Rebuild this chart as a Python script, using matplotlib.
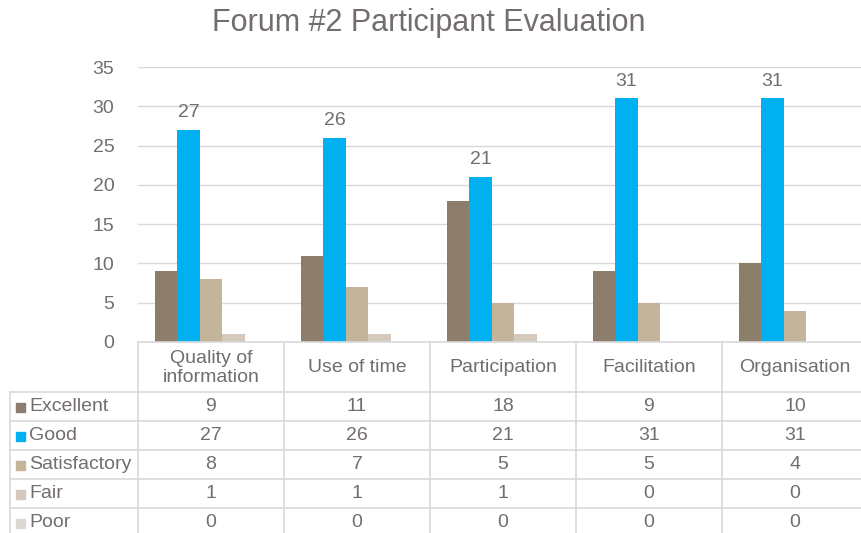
import numpy as np
import matplotlib
matplotlib.use('Agg')
import matplotlib.pyplot as plt
from matplotlib.patches import Rectangle

categories = ['Quality of\ninformation', 'Use of time', 'Participation', 'Facilitation', 'Organisation']
series = ['Excellent', 'Good', 'Satisfactory', 'Fair', 'Poor']
excellent = [9, 11, 18, 9, 10]
good = [27, 26, 21, 31, 31]
satisfactory = [8, 7, 5, 5, 4]
fair = [1, 1, 1, 0, 0]
poor = [0, 0, 0, 0, 0]
colors = ['#8c7e6b', '#00b0f0', '#c4b59a', '#d4c9bc', '#dcd9d5']

values = [excellent, good, satisfactory, fair, poor]
txt = '#736d6d'
grid = '#d9d9d9'
fs = 14

plt.rcParams['font.family'] = ['Liberation Sans', 'DejaVu Sans']

W, H = 861, 533
fig = plt.figure(figsize=(W / 100, H / 100), dpi=100)

# plot area (pixel layout of the reference)
left, right, top, bottom = 138, 868, 67, 342
ax = fig.add_axes([left / W, 1 - bottom / H, (right - left) / W, (bottom - top) / H])
x = np.arange(len(categories))
bw = 0.154
for i, (name, vals) in enumerate(zip(series, values)):
    bars = ax.bar(x + (i - 2) * bw, vals, bw, color=colors[i], label=name, zorder=3)
    if name == 'Good':
        for b, v in zip(bars, vals):
            ax.text(b.get_x() + b.get_width() / 2, v + 1.1, str(v), ha='center', va='bottom',
                    fontsize=fs, color=txt)

ax.set_xlim(-0.5, len(categories) - 0.5)
ax.set_ylim(0, 35)
ax.set_yticks(range(0, 36, 5))
ax.yaxis.grid(True, color=grid, linewidth=1, zorder=0)
ax.set_xticks([])
ax.tick_params(axis='y', length=0, labelsize=fs, labelcolor=txt, pad=17)
for s in ax.spines.values():
    s.set_visible(False)

fig.text(429 / W, 1 - 23 / H, 'Forum #2 Participant Evaluation', ha='center', va='center',
         fontsize=22, color=txt)

# data table underneath, drawn in pixel coordinates
tx = fig.add_axes([0, 0, 1, 1])
tx.set_xlim(0, W)
tx.set_ylim(H, 0)
tx.axis('off')
tx.patch.set_alpha(0)

colw = (right - left) / len(categories)
col_edges = [left + colw * k for k in range(len(categories) + 1)]
head_bot = 392
rowh = 29
row_edges = [head_bot + rowh * k for k in range(len(series) + 1)]
lx = 10

tx.plot([left, right], [bottom, bottom], color=grid, lw=1.2)
for yy in row_edges:
    tx.plot([lx, right], [yy, yy], color=grid, lw=1.2)
tx.plot([lx, lx], [head_bot, row_edges[-1]], color=grid, lw=1.2)
for xx in col_edges:
    tx.plot([xx, xx], [bottom, row_edges[-1]], color=grid, lw=1.2)

for k, cat in enumerate(categories):
    cx = (col_edges[k] + col_edges[k + 1]) / 2
    tx.text(cx, (bottom + head_bot) / 2 + 1, cat, ha='center', va='center', fontsize=fs,
            color=txt, linespacing=1.15)

for i, (name, vals) in enumerate(zip(series, values)):
    cy = (row_edges[i] + row_edges[i + 1]) / 2
    tx.add_patch(Rectangle((16, cy - 4), 9, 9, color=colors[i]))
    tx.text(29, cy, name, ha='left', va='center', fontsize=fs, color=txt)
    for k, v in enumerate(vals):
        cx = (col_edges[k] + col_edges[k + 1]) / 2
        tx.text(cx, cy, str(v), ha='center', va='center', fontsize=fs, color=txt)

fig.savefig('out.png', dpi=100)
